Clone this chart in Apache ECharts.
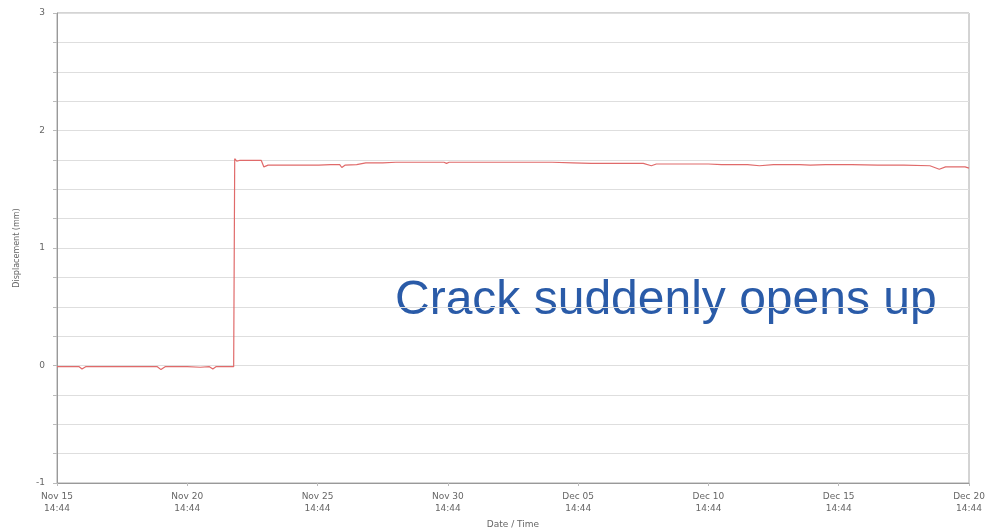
<!doctype html>
<html>
    <head>
        <meta charset="utf-8">
        <style>
            html, body { margin: 0; padding: 0; background: #fff; }
            #main { width: 986px; height: 531px; }
        </style>
    </head>
    <body>
        <div id="main"></div>
        <script src="https://cdn.jsdelivr.net/npm/echarts@6/dist/echarts.min.js"></script>
        <script>
            // days since Nov 15 14:44
            var days = [0, 0.5, 0.85, 0.96, 1.1, 1.5, 2.0, 2.5, 3.0, 3.5, 3.85, 3.99, 4.15, 4.5, 5.0, 5.5, 5.85, 5.98, 6.1, 6.5, 6.78,
                6.82, 6.9, 6.95, 7.0, 7.4, 7.84, 7.94, 8.1, 8.5, 9.0, 9.5, 9.9, 9.97, 10.05, 10.5, 10.85, 10.93, 11.05, 11.5, 11.85,
                12.5, 13.0, 14.0, 14.85, 14.95, 15.05, 16.0, 17.0, 18.0, 19.0, 19.79, 20.5, 21.5, 22.5, 22.81, 23.0, 24.0, 25.0,
                25.5, 26.5, 26.96, 27.5, 28.5, 28.91, 29.5, 30.5, 31.5, 32.5, 33.5, 33.86, 34.1, 34.5, 34.85, 35.0];
            var displacement = [-0.01, -0.01, -0.01, -0.03, -0.01, -0.01, -0.01, -0.01, -0.01, -0.01, -0.01, -0.035, -0.01, -0.01, -0.01, -0.015, -0.01, -0.03, -0.01, -0.01, -0.01,
                1.76, 1.74, 1.75, 1.745, 1.745, 1.745, 1.69, 1.705, 1.705, 1.705, 1.705, 1.705, 1.695, 1.705, 1.71, 1.71, 1.685, 1.705, 1.71, 1.725,
                1.725, 1.73, 1.73, 1.73, 1.72, 1.73, 1.73, 1.73, 1.73, 1.73, 1.725, 1.72, 1.72, 1.72, 1.70, 1.715, 1.715, 1.715,
                1.71, 1.71, 1.70, 1.71, 1.71, 1.705, 1.71, 1.71, 1.705, 1.705, 1.70, 1.67, 1.69, 1.69, 1.69, 1.68];
            var dayTicks = [0, 5, 10, 15, 20, 25, 30, 35];
            var tickLabels = ['Nov 15\n14:44', 'Nov 20\n14:44', 'Nov 25\n14:44', 'Nov 30\n14:44',
                'Dec 05\n14:44', 'Dec 10\n14:44', 'Dec 15\n14:44', 'Dec 20\n14:44'];

            var chart = echarts.init(document.getElementById('main'));

            var points = days.map(function (d, i) { return [d, displacement[i]]; });

            chart.setOption({
                animation: false,
                grid: {
                    left: 57, right: 17, top: 13, bottom: 48,
                    outerBoundsMode: 'none',
                    containLabel: false,
                    show: true, borderColor: '#a8a8a8', borderWidth: 1
                },
                xAxis: {
                    type: 'value',
                    min: 0, max: 35, interval: 5,
                    name: 'Date / Time',
                    nameLocation: 'middle',
                    nameGap: 37,
                    nameTextStyle: { fontFamily: 'DejaVu Sans', fontSize: 9, color: '#666' },
                    axisLine: { onZero: false, lineStyle: { color: '#999' } },
                    axisTick: { show: true, length: 3, lineStyle: { color: '#bbb' } },
                    splitLine: { show: false },
                    axisLabel: {
                        fontFamily: 'DejaVu Sans', fontSize: 9, color: '#666', lineHeight: 12, margin: 8,
                        formatter: function (v) {
                            var k = dayTicks.indexOf(v);
                            return k >= 0 ? tickLabels[k] : '';
                        }
                    }
                },
                yAxis: {
                    type: 'value',
                    min: -1, max: 3, interval: 0.25,
                    name: 'Displacement (mm)',
                    nameLocation: 'middle',
                    nameGap: 36,
                    nameRotate: 90,
                    nameTextStyle: { fontFamily: 'DejaVu Sans', fontSize: 8, color: '#666' },
                    axisLine: { show: true, lineStyle: { color: '#999' } },
                    axisTick: { show: true, length: 4, lineStyle: { color: '#bbb' } },
                    splitLine: { lineStyle: { color: '#dedede' } },
                    axisLabel: {
                        fontFamily: 'DejaVu Sans', fontSize: 9, color: '#666', margin: 12,
                        formatter: function (v) {
                            return Number.isInteger(v) ? String(v) : '';
                        }
                    }
                },
                series: [{
                    type: 'line',
                    data: points,
                    showSymbol: false,
                    lineStyle: { color: '#e06a6a', width: 1.2 }
                }],
                graphic: [{
                    type: 'text',
                    left: 395,
                    top: 277,
                    style: {
                        text: 'Crack suddenly opens up',
                        fill: '#2a5ba8',
                        font: '48px "Liberation Sans", Arial, sans-serif'
                    }
                }]
            });

            window.onresize = chart.resize;
        </script>
    </body>
</html>
